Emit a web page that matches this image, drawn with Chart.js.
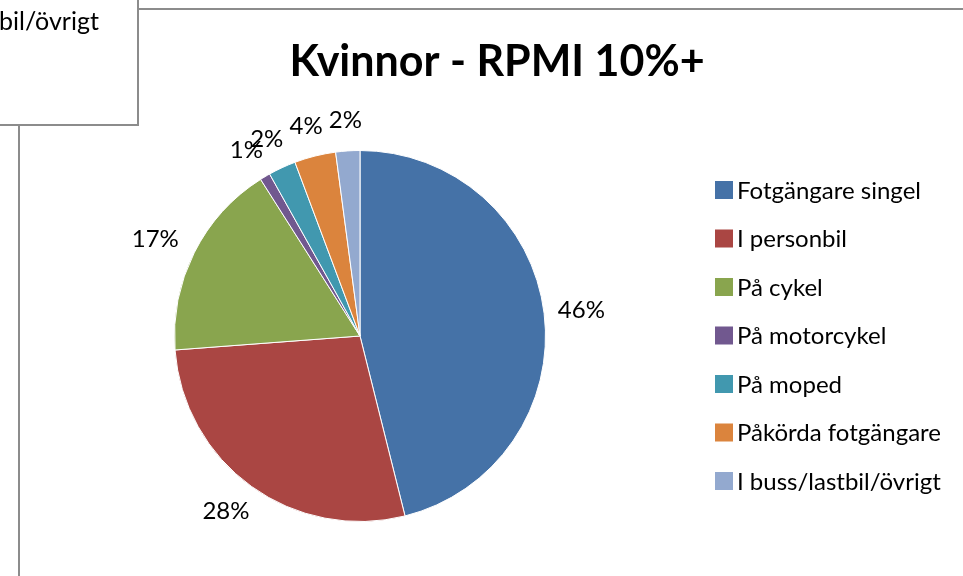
<!DOCTYPE html>
<html>
<head>
<meta charset="utf-8">
<script src="https://cdn.jsdelivr.net/npm/chart.js@4/dist/chart.umd.min.js"></script>
<style>
  html, body { margin: 0; padding: 0; background: #fff; }
  #wrap { position: relative; width: 963px; height: 576px; }
</style>
</head>
<body>
<div id="wrap"><canvas id="c" width="963" height="576"></canvas></div>
<script>
// Data (shares in %)
const categories = [
  'Fotgängare singel',
  'I personbil',
  'På cykel',
  'På motorcykel',
  'På moped',
  'Påkörda fotgängare',
  'I buss/lastbil/övrigt',
];
const shares = [46.1, 27.7, 17.2, 0.9, 2.4, 3.6, 2.1];
const shareLabels = ['46%', '28%', '17%', '1%', '2%', '4%', '2%'];
const colors = ['#4572A7', '#AA4643', '#89A54E', '#71588F', '#4198AF', '#DB843D', '#93A9CF'];
const title = 'Kvinnor - RPMI 10%+';
const leftoverLegendText = 'bil/övrigt';

const FONT = 'Lato, "Open Sans", sans-serif';

// Rest of the page around the chart: the neighbouring chart's legend box and frame lines
const frame = {
  id: 'frame',
  beforeDraw(chart) {
    const { ctx } = chart;
    ctx.save();
    ctx.fillStyle = '#fff';
    ctx.fillRect(0, 0, chart.width, chart.height);
    ctx.strokeStyle = '#8c8c8c';
    ctx.lineWidth = 2;
    ctx.beginPath();
    ctx.moveTo(139, 9); ctx.lineTo(963, 9);
    ctx.moveTo(-2, 125); ctx.lineTo(138, 125); ctx.lineTo(138, -2);
    ctx.moveTo(19, 126); ctx.lineTo(19, 576);
    ctx.stroke();
    ctx.fillStyle = '#000';
    ctx.font = '25px ' + FONT;
    ctx.textBaseline = 'alphabetic';
    ctx.fillText(leftoverLegendText, -1, 30);
    ctx.restore();
  },
};

// Title, data labels and legend
const decorations = {
  id: 'decorations',
  afterDraw(chart) {
    const { ctx } = chart;
    ctx.save();
    ctx.fillStyle = '#000';
    ctx.textAlign = 'center';
    ctx.textBaseline = 'middle';
    ctx.font = 'bold 43px ' + FONT;
    ctx.fillText(title, 497, 62);

    // labels outside each slice (left-hand ones sit a little further out, as in Excel)
    ctx.font = '24px ' + FONT;
    const meta = chart.getDatasetMeta(0);
    meta.data.forEach((arc, i) => {
      const { x, y, startAngle, endAngle, outerRadius } = arc.getProps(['x', 'y', 'startAngle', 'endAngle', 'outerRadius'], true);
      const mid = (startAngle + endAngle) / 2;
      const ux = Math.cos(mid), uy = Math.sin(mid);
      const txt = shareLabels[i];
      const w = ctx.measureText(txt).width;
      const h = 22;
      const d = outerRadius + (ux < 0 ? 20 : 14);
      const lx = x + ux * d + ux * w / 2;
      const ly = y + uy * d + uy * h / 2;
      ctx.fillText(txt, lx, ly);
    });

    // legend
    ctx.textAlign = 'left';
    ctx.font = '24px ' + FONT;
    categories.forEach((name, i) => {
      const cy = 190 + i * 48.5;
      ctx.fillStyle = colors[i];
      ctx.fillRect(715, cy - 9, 18, 18);
      ctx.fillStyle = '#000';
      ctx.fillText(name, 737, cy + 1);
    });
    ctx.restore();
  },
};

new Chart(document.getElementById('c'), {
  type: 'pie',
  data: {
    labels: categories,
    datasets: [{
      data: shares,
      backgroundColor: colors,
      borderColor: '#fff',
      borderWidth: 1,
    }],
  },
  options: {
    responsive: false,
    animation: false,
    layout: { padding: { left: 174, top: 150, right: 417, bottom: 54 } },
    plugins: {
      legend: { display: false },
      title: { display: false },
      tooltip: { enabled: false },
    },
  },
  plugins: [frame, decorations],
});
</script>
</body>
</html>
